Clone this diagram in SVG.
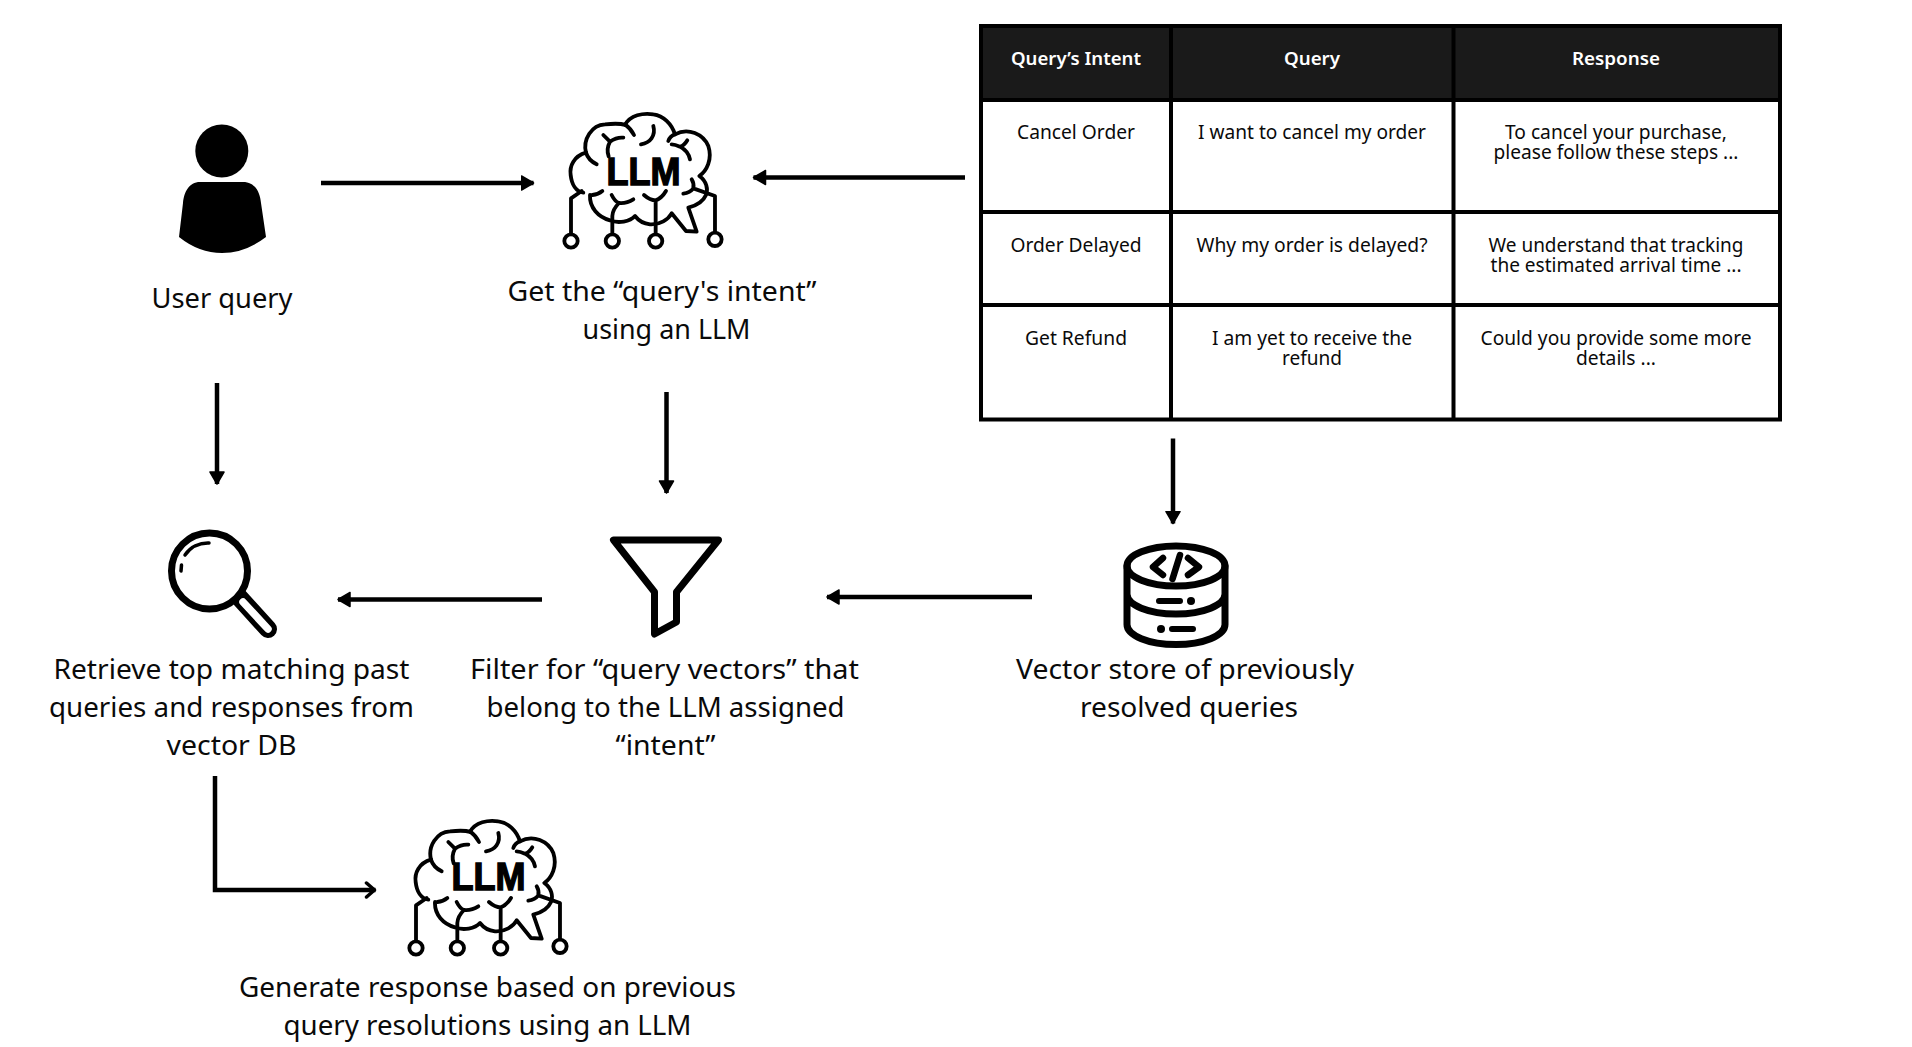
<svg xmlns="http://www.w3.org/2000/svg" xmlns:xlink="http://www.w3.org/1999/xlink" width="1912" height="1047" viewBox="0 0 1912 1047">
<style>
text{font-family:"Noto Sans","Open Sans","Liberation Sans",sans-serif;fill:#0a0a0a;text-anchor:middle}
.l{font-size:28px}
.c{font-size:19px}
.h{font-size:18.5px;font-weight:600;fill:#fff}
.llm{font-family:"Liberation Sans",Arial,sans-serif;font-size:38px;font-weight:700;fill:#000;stroke:#000;stroke-width:1.400px}
.k{fill:none;stroke:#000;stroke-linecap:round;stroke-linejoin:round}
.t{stroke:#000;stroke-width:4;fill:none}
.a{fill:none;stroke:#000;stroke-width:4.500;marker-end:url(#ah)}
</style>
<defs>
<marker id="ah" markerUnits="userSpaceOnUse" markerWidth="16" markerHeight="18" refX="13" refY="8" orient="auto">
<path d="M1 1 L13 8 L1 15 Z" fill="#000" stroke="#000" stroke-width="1.500" stroke-linejoin="round"/>
</marker>
<marker id="ao" markerUnits="userSpaceOnUse" markerWidth="16" markerHeight="20" refX="12" refY="9" orient="auto">
<path d="M3 2 L11 9 L3 16" fill="none" stroke="#000" stroke-width="3.500" stroke-linecap="round" stroke-linejoin="round"/>
</marker>
<g id="brain" class="k" stroke-width="11.500">
<path d="M78 155 C42 165 28 195 32 222 C35 250 48 272 70 275"/>
<path d="M78 155 C68 115 95 72 135 70 C155 68 180 66 195 72 C210 42 250 35 280 40 C310 44 335 68 345 100 C385 78 430 100 445 135 C458 175 440 210 418 225 C440 240 445 265 438 282 C428 305 405 315 385 320 L410 392 L378 390 L335 337 C325 355 300 372 270 370 C250 368 235 358 225 345 C210 362 175 368 150 358 C115 348 88 320 90 282"/>
<path d="M78 155 Q85 178 110 190"/>
<path d="M195 70 Q212 82 222 102"/>
<path d="M345 100 Q330 105 325 120"/>
<path d="M280 75 C288 105 270 125 243 130"/>
<path d="M130 102 L150 122 Q170 108 190 110 M150 122 Q138 145 146 166"/>
<path d="M382 118 Q372 135 360 137 Q345 130 335 130 M360 137 Q385 150 390 175"/>
<path d="M97 282 Q115 280 127 270"/>
<path d="M155 282 Q165 302 177 306 Q200 308 220 295 M177 306 Q158 325 157 345 V400"/>
<path d="M252 282 Q270 298 287 298 Q305 292 318 270 M287 298 V400"/>
<path d="M370 278 Q390 275 400 262 Q403 248 395 235 M400 262 L465 285 V395"/>
<path d="M65 270 L33 292 V400"/>
<circle cx="33" cy="420" r="20" fill="#fff"/>
<circle cx="157" cy="420" r="20" fill="#fff"/>
<circle cx="287" cy="420" r="20" fill="#fff"/>
<circle cx="465" cy="415" r="20" fill="#fff"/>
</g>
</defs>
<rect width="1912" height="1047" fill="#fff"/>

<g id="connectors">
<path class="a" d="M321 183 H533.500"/>
<path class="a" d="M965 177.500 H753.500"/>
<path class="a" d="M217 383 V484"/>
<path class="a" d="M666.500 392 V493"/>
<path class="a" d="M1173 438.500 V523.500"/>
<path class="a" d="M1032 597 H827"/>
<path class="a" d="M542 599.500 H338"/>
<path class="t" d="M215 776 V890 H375.500" style="stroke-width:4.500;marker-end:url(#ao)"/>
</g>

<g id="node-user">
<ellipse cx="221.800" cy="151" rx="26.500" ry="26.500" fill="#000"/>
<path d="M200 182 H243 C255 182 260 192 261 203 L266 237 Q245 253 222 253 Q199 253 179 237 L183 203 C184 192 189 182 200 182 Z" fill="#000"/>
<text class="l" x="222" y="308" textLength="141" lengthAdjust="spacingAndGlyphs">User query</text>
</g>

<g id="node-llm-intent">
<use href="#brain" xlink:href="#brain" transform="translate(560 101) scale(.3333)"/>
<text class="llm" x="643.500" y="185" textLength="74" lengthAdjust="spacingAndGlyphs">LLM</text>
<text class="l" x="662" y="301" textLength="309" lengthAdjust="spacingAndGlyphs">Get the “query's intent”</text>
<text class="l" x="666.500" y="339" textLength="168" lengthAdjust="spacingAndGlyphs">using an LLM</text>
</g>

<g id="node-table">
<rect x="981" y="26" width="799" height="74" fill="#1a1a1a"/>
<rect class="t" x="981" y="26" width="799" height="393.500"/>
<path class="t" d="M981 100 H1780 M981 212 H1780 M981 305 H1780 M1171 26 V419.500 M1453.500 26 V419.500"/>
<text class="h" x="1076" y="65" textLength="130" lengthAdjust="spacingAndGlyphs">Query’s Intent</text>
<text class="h" x="1312" y="65" textLength="56" lengthAdjust="spacingAndGlyphs">Query</text>
<text class="h" x="1616" y="65" textLength="88" lengthAdjust="spacingAndGlyphs">Response</text>
<text class="c" x="1076" y="139" textLength="118" lengthAdjust="spacingAndGlyphs">Cancel Order</text>
<text class="c" x="1312" y="139" textLength="228" lengthAdjust="spacingAndGlyphs">I want to cancel my order</text>
<text class="c" x="1616" y="139" textLength="222" lengthAdjust="spacingAndGlyphs">To cancel your purchase,</text>
<text class="c" x="1616" y="159" textLength="245" lengthAdjust="spacingAndGlyphs">please follow these steps ...</text>
<text class="c" x="1076" y="252" textLength="131" lengthAdjust="spacingAndGlyphs">Order Delayed</text>
<text class="c" x="1312" y="252" textLength="231" lengthAdjust="spacingAndGlyphs">Why my order is delayed?</text>
<text class="c" x="1616" y="252" textLength="255" lengthAdjust="spacingAndGlyphs">We understand that tracking</text>
<text class="c" x="1616" y="272" textLength="251" lengthAdjust="spacingAndGlyphs">the estimated arrival time ...</text>
<text class="c" x="1076" y="345" textLength="102" lengthAdjust="spacingAndGlyphs">Get Refund</text>
<text class="c" x="1312" y="345" textLength="200" lengthAdjust="spacingAndGlyphs">I am yet to receive the</text>
<text class="c" x="1312" y="365" textLength="60" lengthAdjust="spacingAndGlyphs">refund</text>
<text class="c" x="1616" y="345" textLength="271" lengthAdjust="spacingAndGlyphs">Could you provide some more</text>
<text class="c" x="1616" y="365" textLength="80" lengthAdjust="spacingAndGlyphs">details ...</text>
</g>

<g id="node-search">
<path class="k" d="M238 596 L268 629" stroke-width="18"/>
<path d="M243 602 L268 629" stroke="#fff" stroke-width="7.500" stroke-linecap="round" fill="none"/>
<circle cx="209.500" cy="571" r="38" fill="#fff" stroke="#000" stroke-width="7"/>
<path class="k" stroke-width="3.500" d="M181 571 L181.500 565 M185 555 A28 28 0 0 1 209 543"/>
<text class="l" x="231.500" y="678.500" textLength="356" lengthAdjust="spacingAndGlyphs">Retrieve top matching past</text>
<text class="l" x="231.500" y="716.500" textLength="365" lengthAdjust="spacingAndGlyphs">queries and responses from</text>
<text class="l" x="231.500" y="755" textLength="130" lengthAdjust="spacingAndGlyphs">vector DB</text>
</g>

<g id="node-filter">
<path class="k" stroke-width="7" d="M613.500 540 H718.500 L676.500 592 V622 L654.500 634 V592 Z"/>
<text class="l" x="664.500" y="678.500" textLength="389" lengthAdjust="spacingAndGlyphs">Filter for “query vectors” that</text>
<text class="l" x="665.500" y="716.500" textLength="358" lengthAdjust="spacingAndGlyphs">belong to the LLM assigned</text>
<text class="l" x="665.500" y="755" textLength="100" lengthAdjust="spacingAndGlyphs">“intent”</text>
</g>

<g id="node-vector-store">
<ellipse class="k" cx="1176" cy="566" rx="49" ry="20" stroke-width="7"/>
<path class="k" stroke-width="7" d="M1127 566 V624.500 A49 20 0 0 0 1225 624.500 V566 M1127 594 A49 20 0 0 0 1225 594"/>
<path class="k" stroke-width="6.500" d="M1163 558 L1153 567 L1163 575 M1180 555 L1172.500 579 M1188 558 L1199 567 L1188 575"/>
<path class="k" stroke-width="6" d="M1159 601 H1180 M1172 629 H1193"/>
<circle cx="1191" cy="601" r="4"/>
<circle cx="1161" cy="629" r="4"/>
<text class="l" x="1185" y="678.500" textLength="338" lengthAdjust="spacingAndGlyphs">Vector store of previously</text>
<text class="l" x="1189" y="716.500" textLength="218" lengthAdjust="spacingAndGlyphs">resolved queries</text>
</g>

<g id="node-llm-response">
<use href="#brain" xlink:href="#brain" transform="translate(405 808) scale(.3333)"/>
<text class="llm" x="488.500" y="890" textLength="74" lengthAdjust="spacingAndGlyphs">LLM</text>
<text class="l" x="487.500" y="996.500" textLength="497" lengthAdjust="spacingAndGlyphs">Generate response based on previous</text>
<text class="l" x="487.500" y="1034.500" textLength="408" lengthAdjust="spacingAndGlyphs">query resolutions using an LLM</text>
</g>
</svg>
